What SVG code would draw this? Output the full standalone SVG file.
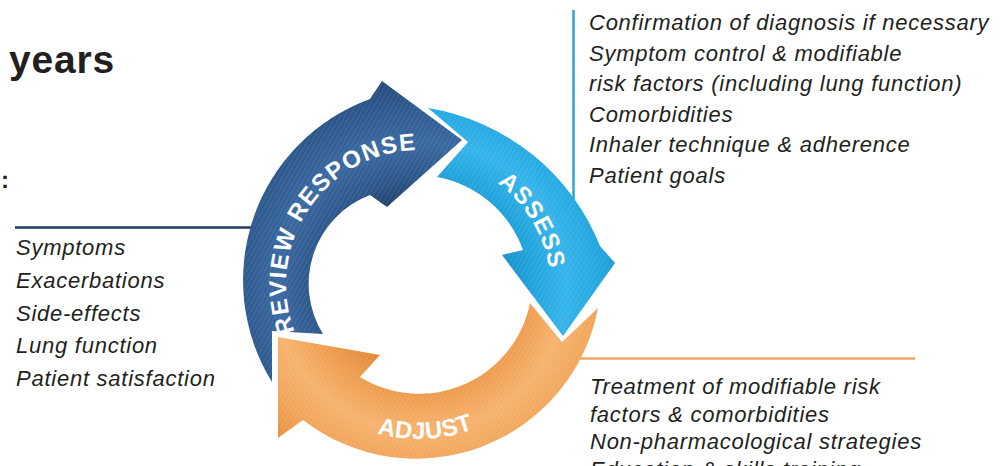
<svg xmlns="http://www.w3.org/2000/svg" width="1004" height="466" viewBox="0 0 1004 466">
  <style>
    .item { font-family: "Liberation Sans", Arial, sans-serif; font-style: italic; font-size: 22px; fill: #231f20; letter-spacing: 0.75px; }
    .head { font-family: "Liberation Sans", Arial, sans-serif; font-weight: bold; fill: #231f20; }
    .arc { font-family: "Liberation Sans", Arial, sans-serif; font-weight: bold; font-size: 24px; fill: #ffffff; }
    .stripes { fill: url(#stripes); }
  </style>
  <defs>
    <!-- ring shading: darker at inner and outer rims, lighter mid-band -->
    <radialGradient id="gBlue" gradientUnits="userSpaceOnUse" cx="420" cy="285" r="215">
      <stop offset="0.38" stop-color="#1e3d66"/>
      <stop offset="0.50" stop-color="#2b5589"/>
      <stop offset="0.66" stop-color="#3867a0"/>
      <stop offset="0.82" stop-color="#2d598e"/>
      <stop offset="0.93" stop-color="#254c7e"/>
      <stop offset="1" stop-color="#21446f"/>
    </radialGradient>
    <radialGradient id="gCyan" gradientUnits="userSpaceOnUse" cx="420" cy="285" r="215">
      <stop offset="0.38" stop-color="#168bc6"/>
      <stop offset="0.52" stop-color="#1ea2dc"/>
      <stop offset="0.68" stop-color="#33b3e9"/>
      <stop offset="0.82" stop-color="#22a8e1"/>
      <stop offset="0.95" stop-color="#1894ce"/>
      <stop offset="1" stop-color="#158cc6"/>
    </radialGradient>
    <radialGradient id="gOrange" gradientUnits="userSpaceOnUse" cx="420" cy="285" r="215">
      <stop offset="0.38" stop-color="#e28838"/>
      <stop offset="0.52" stop-color="#ee9d4e"/>
      <stop offset="0.68" stop-color="#f6b26e"/>
      <stop offset="0.82" stop-color="#f2a55a"/>
      <stop offset="0.95" stop-color="#e79343"/>
      <stop offset="1" stop-color="#e28c3c"/>
    </radialGradient>
    <!-- fine diagonal texture -->
    <pattern id="stripes" width="4" height="4" patternUnits="userSpaceOnUse" patternTransform="rotate(30)">
      <rect width="1.6" height="4" fill="#ffffff" opacity="0.08"/>
    </pattern>
    <!-- baselines for the curved labels -->
    <path id="pReview" d="M304,351 A134,134 0 0 1 438.6,151.3"/>
    <path id="pAssess" d="M445.1,160.5 A130,130 0 0 1 545.0,326.0"/>
    <path id="pAdjust" d="M341.5,418.2 A155,155 0 0 0 507.9,411.0"/>
  </defs>

  <!-- headings -->
  <g id="headings">
    <text class="head" x="9" y="73" font-size="39" letter-spacing="0.8">years</text>
    <text class="head" x="1" y="188" font-size="24">:</text>
  </g>

  <!-- connectors between the cycle and the lists -->
  <g id="connectors" fill="none" stroke-width="2.5">
    <line x1="15" y1="227.5" x2="254" y2="227.5" stroke="#1f3c5e"/>
    <line x1="573.5" y1="10" x2="573.5" y2="204" stroke="#2fa2da"/>
    <line x1="578" y1="358.5" x2="915" y2="358.5" stroke="#f2a862"/>
  </g>

  <!-- REVIEW RESPONSE arrow -->
  <g id="node-review">
    <path fill="url(#gBlue)" d="M272,382 A193,193 0 0 1 370,99 L382,81 L462,140 L387,207 L370,195 A95,95 0 0 0 323,334 L272,331 Z"/>
    <path class="stripes" d="M272,382 A193,193 0 0 1 370,99 L382,81 L462,140 L387,207 L370,195 A95,95 0 0 0 323,334 L272,331 Z"/>
    <text class="arc" letter-spacing="1.4"><textPath href="#pReview" startOffset="50%" text-anchor="middle">REVIEW RESPONSE</textPath></text>
  </g>

  <!-- ASSESS arrow -->
  <g id="node-assess">
    <path fill="url(#gCyan)" d="M428,108 A224,224 0 0 1 600,246 L615,263 L563,336 L502,255 L523,250 A113,113 0 0 0 437,177 L468,142 Z"/>
    <path class="stripes" d="M428,108 A224,224 0 0 1 600,246 L615,263 L563,336 L502,255 L523,250 A113,113 0 0 0 437,177 L468,142 Z"/>
    <text class="arc" letter-spacing="1"><textPath href="#pAssess" startOffset="50%" text-anchor="middle">ASSESS</textPath></text>
  </g>

  <!-- ADJUST arrow -->
  <g id="node-adjust">
    <path fill="url(#gOrange)" d="M598,308 A185,185 0 0 1 303,420 L278,438 L278,337 L380,355 L360,377 A113,113 0 0 0 530,303 L562,342 Z"/>
    <path class="stripes" d="M598,308 A185,185 0 0 1 303,420 L278,438 L278,337 L380,355 L360,377 A113,113 0 0 0 530,303 L562,342 Z"/>
    <text class="arc" letter-spacing="0.4"><textPath href="#pAdjust" startOffset="50%" text-anchor="middle">ADJUST</textPath></text>
  </g>

  <!-- review list -->
  <g id="list-review">
    <text class="item" x="16" y="255">Symptoms</text>
    <text class="item" x="16" y="288">Exacerbations</text>
    <text class="item" x="16" y="321">Side-effects</text>
    <text class="item" x="16" y="353">Lung function</text>
    <text class="item" x="16" y="386">Patient satisfaction</text>
  </g>

  <!-- assess list -->
  <g id="list-assess">
    <text class="item" x="589" y="29.5">Confirmation of diagnosis if necessary</text>
    <text class="item" x="589" y="60.5">Symptom control &amp; modifiable</text>
    <text class="item" x="589" y="91">risk factors (including lung function)</text>
    <text class="item" x="589" y="121.5">Comorbidities</text>
    <text class="item" x="589" y="152">Inhaler technique &amp; adherence</text>
    <text class="item" x="589" y="183">Patient goals</text>
  </g>

  <!-- adjust list -->
  <g id="list-adjust">
    <text class="item" x="590" y="394">Treatment of modifiable risk</text>
    <text class="item" x="590" y="421.5">factors &amp; comorbidities</text>
    <text class="item" x="590" y="449">Non-pharmacological strategies</text>
    <text class="item" x="590" y="476.5">Education &amp; skills training</text>
  </g>
</svg>
